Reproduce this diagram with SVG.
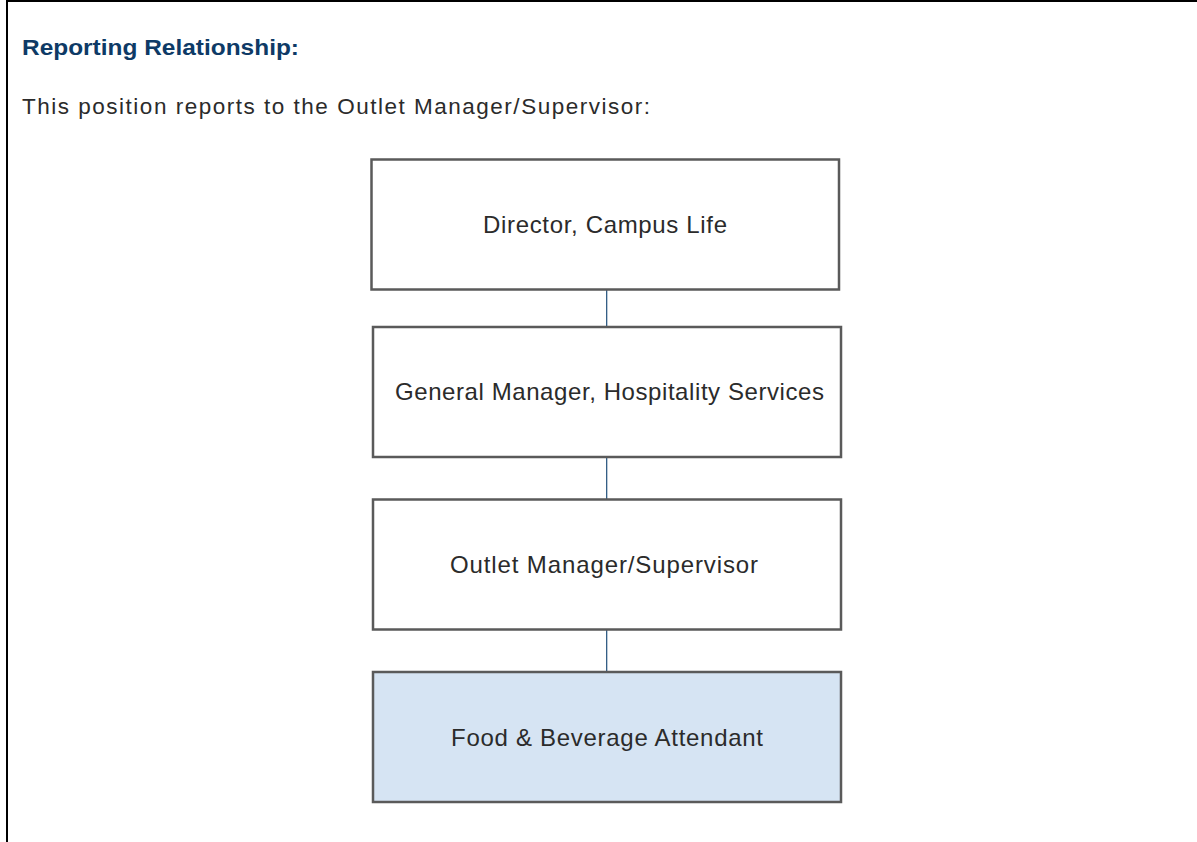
<svg xmlns="http://www.w3.org/2000/svg" width="1197" height="842" viewBox="0 0 1197 842">
<style>
.frame{stroke:#000;stroke-width:2;fill:none}
.box{stroke:#5a5a5a;stroke-width:2.5;fill:#fff}
.self{fill:#d6e4f3}
.lbl{font-family:"Liberation Sans",Arial,sans-serif;font-size:24px;fill:#2b2b2b;text-anchor:middle}
.conn{stroke:#1f4e79;stroke-width:1.2}
.head{font-family:"Liberation Sans",Arial,sans-serif;font-size:22.5px;font-weight:bold;fill:#0e3a66}
.body{font-family:"Liberation Sans",Arial,sans-serif;font-size:22.5px;fill:#2b2b2b}
</style>
<rect x="0" y="0" width="1197" height="842" fill="#fff"/>
<line class="frame" x1="6" y1="1" x2="1197" y2="1"/>
<line class="frame" x1="7" y1="0" x2="7" y2="842"/>
<text class="head" x="22" y="54.5" textLength="277" lengthAdjust="spacingAndGlyphs">Reporting Relationship:</text>
<text class="body" x="22" y="114" textLength="628" lengthAdjust="spacing">This position reports to the Outlet Manager/Supervisor:</text>
<g id="connectors">
<line class="conn" x1="606.7" y1="290" x2="606.7" y2="327"/>
<line class="conn" x1="606.7" y1="458" x2="606.7" y2="500"/>
<line class="conn" x1="606.7" y1="630" x2="606.7" y2="672"/>
</g>
<g id="n1">
<rect class="box" x="371.5" y="159.5" width="467.5" height="130"/>
<text class="lbl" x="605" y="232.5" textLength="244" lengthAdjust="spacing">Director, Campus Life</text>
</g>
<g id="n2">
<rect class="box" x="373" y="327" width="468" height="130"/>
<text class="lbl" x="609.5" y="399.5" textLength="429" lengthAdjust="spacing">General Manager, Hospitality Services</text>
</g>
<g id="n3">
<rect class="box" x="373" y="499.5" width="468" height="130"/>
<text class="lbl" x="604" y="573" textLength="308" lengthAdjust="spacing">Outlet Manager/Supervisor</text>
</g>
<g id="n4">
<rect class="box self" x="373" y="672" width="468" height="130"/>
<text class="lbl" x="607" y="745.5" textLength="312" lengthAdjust="spacing">Food &amp; Beverage Attendant</text>
</g>
</svg>
